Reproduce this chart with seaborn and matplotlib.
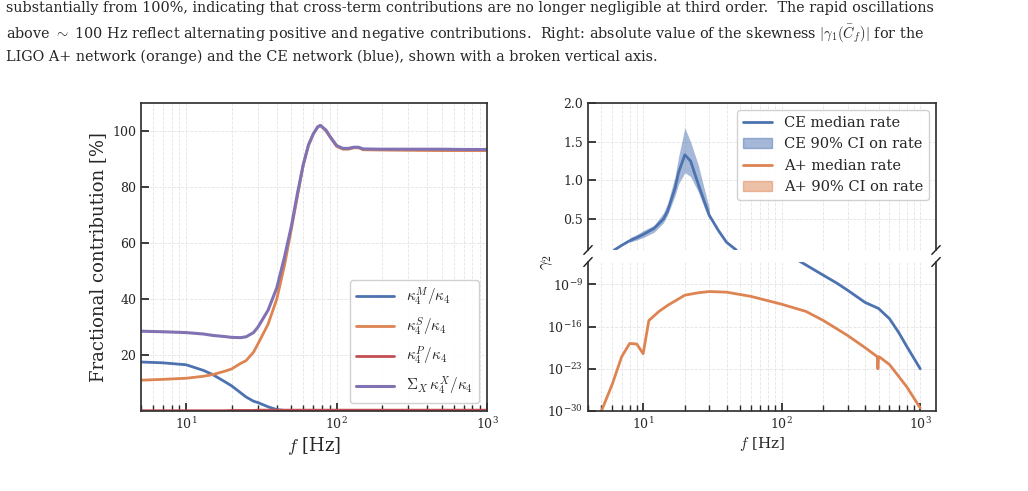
import numpy as np
import matplotlib
matplotlib.use("Agg")
import matplotlib.pyplot as plt
import seaborn as sns
from matplotlib.lines import Line2D
from matplotlib.patches import Patch

# left panel: fractional contributions [%]
f_left = [5, 7, 10, 13, 15, 18, 20, 23, 25, 28, 30, 35, 40, 45, 50, 55, 60, 65, 70, 75, 78, 85, 90, 100, 110, 120, 130, 140, 150, 200, 300, 500, 700, 1000]
frac_M = [17.5, 17.2, 16.5, 14.5, 13, 10.5, 9, 6.5, 5, 3.5, 3, 1.5, 0.5, 0.2, 0, 0, 0, 0, 0, 0, 0, 0, 0, 0, 0, 0, 0, 0, 0, 0, 0, 0, 0, 0]
frac_S = [11, 11.3, 11.7, 12.4, 13, 14.2, 15, 17, 18, 21, 24, 31, 40, 52, 65, 77, 88, 95, 99, 101.5, 102, 100, 98, 94.5, 93.5, 93.5, 94, 94, 93.3, 93.2, 93.1, 93, 93, 93]
frac_P = [0.1, 0.1, 0.1, 0.1, 0.1, 0.1, 0.2, 0.2, 0.2, 0.2, 0.3, 0.3, 0.3, 0.3, 0.3, 0.3, 0.3, 0.3, 0.3, 0.3, 0.3, 0.3, 0.3, 0.3, 0.3, 0.3, 0.3, 0.3, 0.3, 0.3, 0.3, 0.3, 0.3, 0.3]
frac_X = [28.5, 28.3, 28, 27.5, 27, 26.6, 26.3, 26.2, 26.5, 28, 30, 36, 44, 55, 66, 78, 88, 95, 99, 101.5, 102, 100.3, 98.2, 94.8, 93.8, 93.8, 94.2, 94.2, 93.6, 93.5, 93.5, 93.5, 93.4, 93.4]

# right top: skewness CE (linear)
f_ce_top = [6.2, 7, 8, 9, 10, 12, 14, 15, 17, 18, 20, 22, 25, 28, 30, 35, 40, 47]
ce_med_top = [0.1, 0.16, 0.22, 0.26, 0.3, 0.38, 0.5, 0.6, 0.9, 1.1, 1.33, 1.25, 0.95, 0.7, 0.55, 0.35, 0.2, 0.1]
f_ce_ci = [8, 9, 10, 12, 14, 15, 17, 18, 20, 22, 25, 28, 30]
ce_lo = [0.2, 0.23, 0.26, 0.33, 0.45, 0.55, 0.8, 0.95, 1.1, 1.05, 0.85, 0.62, 0.5]
ce_hi = [0.26, 0.3, 0.35, 0.42, 0.58, 0.7, 1.05, 1.3, 1.68, 1.5, 1.2, 0.85, 0.65]

# right bottom: log10 of skewness
f_ce_bot = [120, 150, 200, 250, 300, 400, 500, 600, 700, 800, 1000]
ce_log = [-4.5, -5.8, -7.5, -8.8, -10, -12, -13, -14.7, -17, -19.3, -23]
f_ap = [5, 6, 7, 8, 9, 10, 11, 13, 15, 20, 25, 30, 40, 60, 100, 150, 200, 300, 400, 490, 495, 500, 505, 600, 800, 1000]
ap_log = [-30, -25.5, -21, -18.8, -18.9, -20.5, -15, -13.5, -12.5, -10.8, -10.4, -10.2, -10.3, -11, -12.3, -13.5, -15, -17.5, -19.5, -21, -23, -21.2, -21, -22.3, -26, -29.5]

sns.set_theme(style="ticks")
plt.rcParams["font.family"] = ["DejaVu Serif"]
plt.rcParams["mathtext.fontset"] = "cm"
plt.rcParams["xtick.direction"] = "in"
plt.rcParams["ytick.direction"] = "in"

pal = sns.color_palette("deep")
blue, orange, red, purple = pal[0], pal[1], pal[3], pal[4]

fig = plt.figure(figsize=(10.28, 4.91), dpi=100)

caption = ("substantially from 100%, indicating that cross-term contributions are no longer negligible at third order.  The rapid oscillations\n"
           "above $\\sim$ 100 Hz reflect alternating positive and negative contributions.  Right: absolute value of the skewness $|\\gamma_1(\\bar{C}_f)|$ for the\n"
           "LIGO A+ network (orange) and the CE network (blue), shown with a broken vertical axis.")
fig.text(0.006, 0.997, caption, ha="left", va="top", fontsize=10.4, linespacing=1.4)

W, H = 1028, 491
def box(x0, y0, x1, y1):
    return [x0 / W, 1 - y1 / H, (x1 - x0) / W, (y1 - y0) / H]

def style(ax):
    ax.grid(True, which="both", ls="--", lw=0.6, color="#e4e4e4")
    for s in ax.spines.values():
        s.set_color("#333333")
    ax.tick_params(which="both", top=False, right=False, labelsize=9)

# left
ax = fig.add_axes(box(141, 103, 487, 411))
sns.lineplot(x=f_left, y=frac_M, ax=ax, color=blue, lw=2, label=r"$\kappa_4^M/\kappa_4$")
sns.lineplot(x=f_left, y=frac_S, ax=ax, color=orange, lw=2, label=r"$\kappa_4^S/\kappa_4$")
sns.lineplot(x=f_left, y=frac_P, ax=ax, color=red, lw=2, label=r"$\kappa_4^P/\kappa_4$")
sns.lineplot(x=f_left, y=frac_X, ax=ax, color=purple, lw=2.2, label=r"$\Sigma_X\,\kappa_4^X/\kappa_4$")
ax.set_xscale("log")
ax.set_xlim(5, 1000)
ax.set_ylim(0, 110)
ax.set_yticks([20, 40, 60, 80, 100])
ax.set_xlabel(r"$f$ [Hz]", fontsize=13, labelpad=2)
ax.set_ylabel("Fractional contribution [%]", fontsize=13)
style(ax)
ax.legend(loc="lower right", fontsize=11, handlelength=2.5, framealpha=0.9)

# right top
at = fig.add_axes(box(588, 103, 936, 250))
at.fill_between(f_ce_ci, ce_lo, ce_hi, color=blue, alpha=0.5, lw=0)
sns.lineplot(x=f_ce_top, y=ce_med_top, ax=at, color=blue, lw=2)
at.set_xscale("log")
at.set_xlim(4, 1300)
at.set_ylim(0.1, 2.0)
at.set_yticks([0.5, 1.0, 1.5, 2.0])
style(at)
at.tick_params(which="both", bottom=False, labelbottom=False)
at.spines["bottom"].set_visible(False)
handles = [Line2D([], [], color=blue, lw=2), Patch(color=blue, alpha=0.5),
           Line2D([], [], color=orange, lw=2), Patch(color=orange, alpha=0.5)]
at.legend(handles, ["CE median rate", "CE 90% CI on rate", "A+ median rate", "A+ 90% CI on rate"],
          loc="upper right", fontsize=10.5, framealpha=0.9)

# right bottom
ab = fig.add_axes(box(588, 262, 936, 411))
sns.lineplot(x=f_ce_bot, y=np.power(10.0, ce_log), ax=ab, color=blue, lw=2)
sns.lineplot(x=f_ap, y=np.power(10.0, ap_log), ax=ab, color=orange, lw=2)
ab.set_xscale("log")
ab.set_yscale("log")
ab.set_xlim(4, 1300)
ab.set_ylim(1e-30, 10 ** -5.3)
ab.set_yticks([1e-30, 1e-23, 1e-16, 1e-9])
ab.yaxis.set_minor_locator(matplotlib.ticker.NullLocator())
ab.set_xlabel(r"$f$ [Hz]", fontsize=11, labelpad=2)
style(ab)
ab.spines["top"].set_visible(False)
fig.text(538 / W, 1 - 262 / H, r"$\gamma_2$", rotation=90, fontsize=12, va="center")

# break marks
d = 0.012
for a, yy in ((at, 0), (ab, 1)):
    kw = dict(transform=a.transAxes, color="k", clip_on=False, lw=1)
    a.plot((-d, d), (yy - 2.5 * d, yy + 2.5 * d), **kw)
    a.plot((1 - d, 1 + d), (yy - 2.5 * d, yy + 2.5 * d), **kw)

fig.savefig("out.png", dpi=100)
